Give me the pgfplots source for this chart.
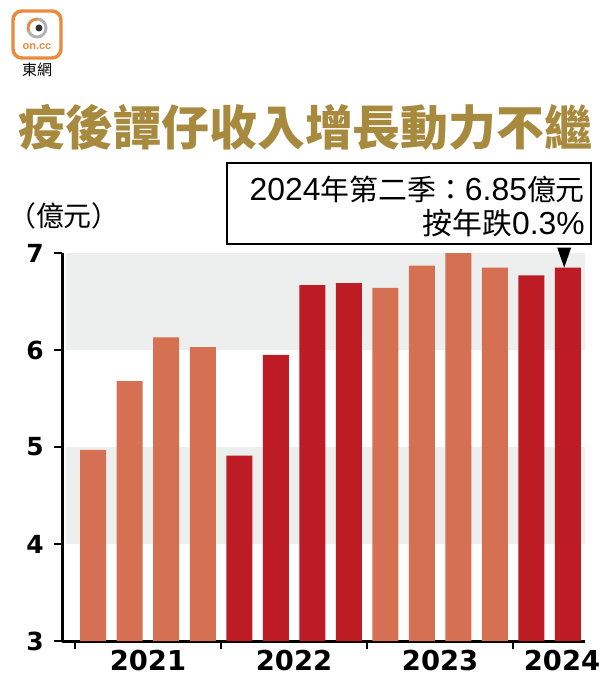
\documentclass[border=0pt]{standalone}
\usepackage{pgfplots}
\pgfplotsset{compat=1.18}
\usepackage{fontspec}
\setmainfont{Liberation Sans}
\newfontfamily\cjk{Noto Sans CJK TC}
\newfontfamily\dvs{DejaVu Sans}
\definecolor{orng}{HTML}{D57152}
\definecolor{dred}{HTML}{BE1C24}
\definecolor{band}{HTML}{EDEEEE}
\definecolor{gold}{HTML}{A88A3E}
\definecolor{logoorange}{HTML}{E98A3E}
\begin{document}
\begin{tikzpicture}[x=1bp,y=1bp]
\path[use as bounding box] (0,0) rectangle (609,-683);
% logo
\draw[line width=3.5, draw=logoorange, fill=white, rounded corners=9] (13,-11) rectangle (61,-58);
\draw[line width=3, gray!60] (37,-28) circle (9);
\draw[line width=2.5, logoorange] (37,-19) arc (90:200:9);
\fill[gray!40!black] (39,-28) circle (3.5);
\node[font=\bfseries\fontsize{11}{11}\selectfont, text=logoorange] at (37,-47) {on.cc};
\node[font=\cjk\fontsize{15}{15}\selectfont] at (37,-70) {東網};
% title
\node[font=\cjk\bfseries\fontsize{48}{48}\selectfont, text=gold] at (305,-127) {疫後譚仔收入增長動力不繼};
% unit
\node[font=\cjk\fontsize{28}{28}\selectfont, anchor=west, inner sep=0] at (8,-216) {（億元）};
% annotation box
\draw[line width=1.5, fill=white] (227,-163) rectangle (591,-244);
\node[anchor=base east, inner sep=0] at (585,-200) {\fontsize{32}{32}\selectfont 2024{\cjk\fontsize{29}{29}\selectfont 年第二季：}6.85{\cjk\fontsize{29}{29}\selectfont 億元}};
\node[anchor=base east, inner sep=0] at (585,-234) {{\cjk\fontsize{30}{30}\selectfont 按年跌}\fontsize{32}{32}\selectfont 0.3\%};
\begin{axis}[
  at={(62bp,-641bp)}, anchor=south west,
  scale only axis, width=523bp, height=388bp,
  xmin=-0.855, xmax=13.47, ymin=3, ymax=7,
  axis lines=left,
  axis line style={-, line width=3bp},
  xtick={-0.5,3.5,7.5,11.5}, xticklabels={},
  ytick={3,4,5,6,7}, yticklabels={},
  tick align=outside,
  major tick length=8bp,
  tick style={line width=2.5bp, black},
]
\fill[band] (axis cs:-0.745,6) rectangle (axis cs:13.61,7);
\fill[band] (axis cs:-0.745,4) rectangle (axis cs:13.61,5);
\addplot[ybar, bar width=26bp, bar shift=0pt, fill=orng, draw=none] coordinates {
(0,4.97) (1,5.68) (2,6.13) (3,6.03)
(8,6.64) (9,6.87) (10,7.00) (11,6.85)};
\addplot[ybar, bar width=26bp, bar shift=0pt, fill=dred, draw=none] coordinates {
(4,4.91) (5,5.95) (6,6.67) (7,6.69)
(12,6.77) (13,6.85)};
\coordinate (tip) at (axis cs:12.9,6.85);
\coordinate (y2021) at (axis cs:1.5,3);
\coordinate (y2022) at (axis cs:5.5,3);
\coordinate (y2023) at (axis cs:9.5,3);
\coordinate (y2024) at (axis cs:12.84,3);
\coordinate (t3) at (axis cs:-0.855,3);
\coordinate (t4) at (axis cs:-0.855,4);
\coordinate (t5) at (axis cs:-0.855,5);
\coordinate (t6) at (axis cs:-0.855,6);
\coordinate (t7) at (axis cs:-0.855,7);
\end{axis}
\fill (tip) -- ++(-7,20) -- ++(14,0) -- cycle;
\foreach \c/\t in {y2021/2021,y2022/2022,y2023/2023,y2024/2024}
  \node[anchor=base, font=\dvs\bfseries\fontsize{27.5}{27.5}\selectfont, yshift=-29bp] at (\c) {\t};
\foreach \c/\t in {t3/3,t4/4,t5/5,t6/6,t7/7}
  \node[anchor=east, inner sep=0pt, xshift=-18bp, font=\dvs\bfseries\fontsize{25}{25}\selectfont] at (\c) {\t};
\end{tikzpicture}
\end{document}
